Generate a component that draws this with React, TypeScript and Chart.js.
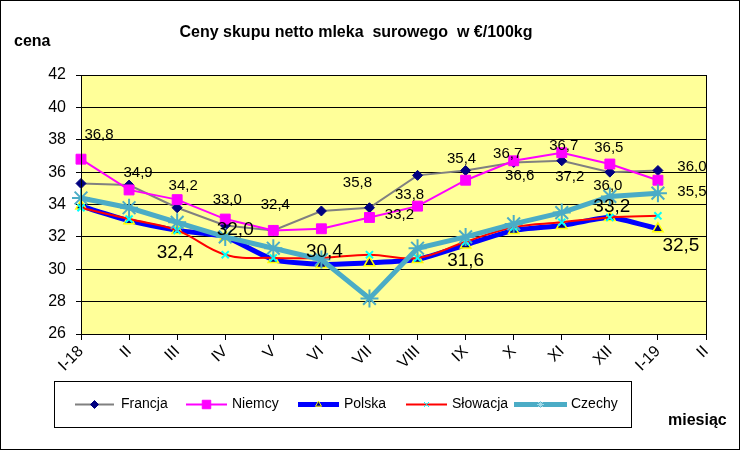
import React, { useEffect, useRef } from 'react';
import { Chart, registerables } from 'chart.js';
import { drawPoint } from 'chart.js/helpers';

Chart.register(...registerables);

const FONT = '"Liberation Sans", Arial, sans-serif';

// ---------- data ----------
const months = ['I-18', 'II', 'III', 'IV', 'V', 'VI', 'VII', 'VIII', 'IX', 'X', 'XI', 'XII', 'I-19', 'II'];
const francja = [35.3, 35.2, 33.8, 32.7, 32.4, 33.6, 33.8, 35.8, 36.1, 36.6, 36.7, 36.0, 36.1, null];
const niemcy = [36.8, 34.9, 34.3, 33.1, 32.4, 32.5, 33.2, 33.9, 35.5, 36.7, 37.2, 36.5, 35.5, null];
const polska = [33.9, 33.0, 32.4, 32.0, 30.6, 30.3, 30.4, 30.6, 31.5, 32.4, 32.7, 33.2, 32.5, null];
const slowacja = [33.8, 33.1, 32.4, 30.9, 30.7, 30.7, 30.9, 30.7, 31.7, 32.6, 32.9, 33.2, 33.3, null];
const czechy = [34.4, 33.8, 32.9, 32.0, 31.3, 30.6, 28.2, 31.3, 32.0, 32.8, 33.5, 34.5, 34.7, null];

const yMin = 26;
const yMax = 42;
const yStep = 2;

// data label texts (as shown on the chart)
const francjaLabels = [null, null, null, null, null, null, '35,8', null, null, '36,6', '37,2', '36,0', '36,0', null];
const niemcyLabels = ['36,8', '34,9', '34,2', '33,0', '32,4', null, '33,2', '33,8', '35,4', '36,7', '36,7', '36,5', '35,5', null];
const polskaLabels = [null, null, '32,4', '32,0', null, '30,4', null, null, '31,6', null, null, '33,2', '32,5', null];

// ---------- label placement (px offsets from point) ----------
const francjaOffsets: Record<number, [number, number]> = {
  6: [-12, -25], 9: [6, 13], 10: [8, 16], 11: [-2, 14], 12: [34, -4],
};
const niemcyOffsets: Record<number, [number, number]> = {
  0: [18, -24], 1: [9, -17], 2: [6, -14], 3: [2, -19], 4: [2, -26],
  6: [30, -3], 7: [-8, -11], 8: [-4, -21], 9: [-6, -7], 10: [2, -7], 11: [-1, -16], 12: [34, 12],
};
const polskaOffsets: Record<number, [number, number]> = {
  2: [-2, 22], 3: [10, -7], 5: [3, -13], 8: [0, 16], 11: [2, -11], 12: [23, 17],
};

const labelSets = [
  { ds: 0, texts: francjaLabels, offsets: francjaOffsets, size: 15 },
  { ds: 1, texts: niemcyLabels, offsets: niemcyOffsets, size: 15 },
  { ds: 2, texts: polskaLabels, offsets: polskaOffsets, size: 19 },
];

const legendItems = [
  { text: 'Francja', line: '#808080', lw: 2, style: 'rectRot', r: 4, fill: '#000080', stroke: '#000080', bw: 1, x1: 75, x2: 114, tx: 121 },
  { text: 'Niemcy', line: '#FF00FF', lw: 2, style: 'rect', r: 6, fill: '#FF00FF', stroke: '#FF00FF', bw: 1, x1: 186, x2: 227, tx: 232 },
  { text: 'Polska', line: '#0000FF', lw: 5, style: 'triangle', r: 3.5, fill: '#000080', stroke: '#FFFF00', bw: 1, x1: 298, x2: 339, tx: 344 },
  { text: 'Słowacja', line: '#FF0000', lw: 2, style: 'crossRot', r: 3.5, fill: '#00FFFF', stroke: '#00FFFF', bw: 1, x1: 406, x2: 447, tx: 452 },
  { text: 'Czechy', line: '#4BACC6', lw: 5, style: 'star', r: 3.5, fill: '#9FD9E8', stroke: '#9FD9E8', bw: 1, x1: 514, x2: 567, tx: 571 },
];

const decorPlugin = {
  id: 'decor',
  beforeDraw(chart: any) {
    const { ctx, chartArea: a } = chart;
    ctx.save();
    ctx.fillStyle = '#FFFFFF';
    ctx.fillRect(0, 0, chart.width, chart.height);
    ctx.fillStyle = '#FFFF99';
    ctx.fillRect(a.left, a.top, a.right - a.left, a.bottom - a.top);
    ctx.restore();
  },
  afterDraw(chart: any) {
    const { ctx, chartArea: a } = chart;
    ctx.save();
    // plot border
    ctx.strokeStyle = '#000';
    ctx.lineWidth = 1;
    ctx.strokeRect(Math.round(a.left) + 0.5, Math.round(a.top) + 0.5, Math.round(a.right - a.left), Math.round(a.bottom - a.top));
    // outer border
    ctx.strokeRect(0.5, 0.5, chart.width - 1, chart.height - 1);

    // data labels
    ctx.fillStyle = '#000';
    ctx.textAlign = 'center';
    ctx.textBaseline = 'middle';
    labelSets.forEach((s) => {
      const meta = chart.getDatasetMeta(s.ds);
      ctx.font = `${s.size}px ${FONT}`;
      s.texts.forEach((t, i) => {
        if (!t) return;
        const p = meta.data[i];
        const o = s.offsets[i] || [0, 0];
        ctx.fillText(t, p.x + o[0], p.y + o[1]);
      });
    });

    // title and axis titles
    ctx.font = `bold 16px ${FONT}`;
    ctx.textAlign = 'center';
    ctx.fillText('Ceny skupu netto mleka  surowego  w €/100kg', 356, 33);
    ctx.textAlign = 'left';
    ctx.fillText('cena', 14, 42);
    ctx.fillText('miesiąc', 668, 421);

    // legend
    ctx.fillStyle = '#FFFFFF';
    ctx.fillRect(54.5, 381.5, 577, 46);
    ctx.strokeStyle = '#000';
    ctx.lineWidth = 1;
    ctx.strokeRect(54.5, 381.5, 577, 46);
    const ly = 404.5;
    ctx.font = `14px ${FONT}`;
    ctx.textBaseline = 'middle';
    legendItems.forEach((it) => {
      ctx.strokeStyle = it.line;
      ctx.lineWidth = it.lw;
      ctx.beginPath();
      ctx.moveTo(it.x1, ly);
      ctx.lineTo(it.x2, ly);
      ctx.stroke();
      ctx.fillStyle = it.fill;
      ctx.strokeStyle = it.stroke;
      ctx.lineWidth = it.bw;
      drawPoint(ctx, { pointStyle: it.style as any, radius: it.r, rotation: 0, borderWidth: it.bw }, (it.x1 + it.x2) / 2, ly);
      ctx.fillStyle = '#000';
      ctx.textAlign = 'left';
      ctx.fillText(it.text, it.tx, ly);
    });
    ctx.restore();
  },
};

export default function App() {
  const ref = useRef<HTMLCanvasElement | null>(null);

  useEffect(() => {
    if (!ref.current) return;
    Chart.defaults.font.family = FONT;
    const chart = new Chart(ref.current, {
      type: 'line',
      data: {
        labels: months,
        datasets: [
          {
            label: 'Francja', data: francja, order: 5,
            borderColor: '#808080', borderWidth: 2,
            pointStyle: 'rectRot', pointRadius: 5,
            pointBackgroundColor: '#000080', pointBorderColor: '#000080', pointBorderWidth: 1,
            tension: 0,
          },
          {
            label: 'Niemcy', data: niemcy, order: 4,
            borderColor: '#FF00FF', borderWidth: 2,
            pointStyle: 'rect', pointRadius: 7,
            pointBackgroundColor: '#FF00FF', pointBorderColor: '#FF00FF', pointBorderWidth: 1,
            tension: 0,
          },
          {
            label: 'Polska', data: polska, order: 3,
            borderColor: '#0000FF', borderWidth: 5,
            pointStyle: 'triangle', pointRadius: 6,
            pointBackgroundColor: '#000080', pointBorderColor: '#FFFF00', pointBorderWidth: 1.5,
            tension: 0.2,
          },
          {
            label: 'Słowacja', data: slowacja, order: 2,
            borderColor: '#FF0000', borderWidth: 2,
            pointStyle: 'crossRot', pointRadius: 5,
            pointBackgroundColor: '#00FFFF', pointBorderColor: '#00FFFF', pointBorderWidth: 2,
            tension: 0.4,
          },
          {
            label: 'Czechy', data: czechy, order: 1,
            borderColor: '#4BACC6', borderWidth: 5,
            pointStyle: 'star', pointRadius: 9,
            pointBackgroundColor: '#4BACC6', pointBorderColor: '#4BACC6', pointBorderWidth: 2,
            tension: 0,
          },
        ],
      },
      options: {
        responsive: false,
        animation: false,
        devicePixelRatio: 1,
        layout: { padding: { top: 75, right: 34, left: 0, bottom: 0 } },
        plugins: {
          legend: { display: false },
          title: { display: false },
          tooltip: { enabled: false },
        },
        scales: {
          x: {
            type: 'category',
            offset: false,
            grid: { drawOnChartArea: false, drawTicks: true, tickLength: 6, color: '#000', lineWidth: 1 },
            border: { display: true, color: '#000', width: 1 },
            ticks: {
              autoSkip: false, minRotation: 45, maxRotation: 45, padding: 2,
              color: '#000', font: { size: 16, family: FONT },
            },
            afterFit: (s: any) => { s.height = 116; },
          },
          y: {
            min: yMin, max: yMax,
            grid: { color: '#000', lineWidth: 1, tickLength: 5 },
            border: { display: true, color: '#000', width: 1 },
            ticks: { stepSize: yStep, padding: 10, color: '#000', font: { size: 16, family: FONT } },
            afterFit: (s: any) => { s.width = 81; },
          },
        },
      },
      plugins: [decorPlugin],
    });
    return () => chart.destroy();
  }, []);

  return (
    <div style={{ position: 'absolute', left: 0, top: 0, width: 740, height: 450 }}>
      <canvas ref={ref} width={740} height={450} style={{ display: 'block' }} />
    </div>
  );
}
